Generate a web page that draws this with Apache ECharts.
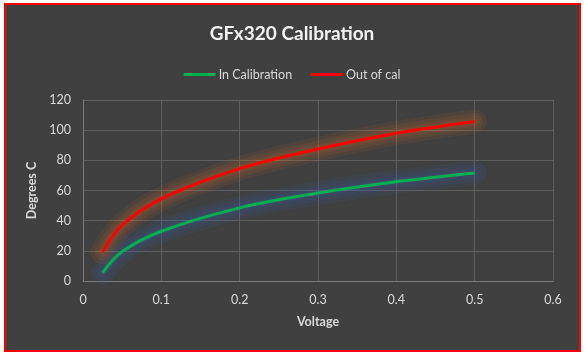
<!DOCTYPE html>
<html><head><meta charset="utf-8">
<script src="https://cdn.jsdelivr.net/npm/echarts@6/dist/echarts.min.js"></script>
<style>html,body{margin:0;padding:0;background:#ffffff;}#c{width:584px;height:356px;}</style>
</head><body><div id="c"></div>
<script>
const voltage = [0.025, 0.05, 0.1, 0.2, 0.3, 0.4, 0.5];
const inCalibration = [5.5, 19.5, 33, 48.5, 58.3, 65.8, 71.6];
const outOfCal = [19.2, 37, 54.5, 74.5, 87.5, 98, 105.8];
const seriesNames = ['In Calibration', 'Out of cal'];
const titleText = 'GFx320 Calibration';
const xName = 'Voltage';
const yName = 'Degrees C';

const font = 'Lato, "Open Sans", sans-serif';
const chart = echarts.init(document.getElementById('c'));
const pairs = arr => voltage.map((v, i) => [v, arr[i]]);
const glowWidths = [24, 17, 11, 6];
const glowLayers = (key, arr, rgb) => glowWidths.map((w, k) => ({
  name: key + k, type: 'line', data: pairs(arr), smooth: 0.35, symbol: 'none', silent: true, z: 1,
  lineStyle: { width: w, color: 'rgba(' + rgb + ',0.07)', shadowBlur: 6, shadowColor: 'rgba(' + rgb + ',0.3)', cap: 'round' }
}));
chart.setOption({
  animation: false,
  backgroundColor: '#ffffff',
  graphic: [{
    type: 'rect', z: -10, silent: true,
    shape: { x: 5, y: 4, width: 575, height: 347 },
    style: { fill: '#404040', stroke: '#ff0000', lineWidth: 2 }
  }],
  title: {
    text: titleText, left: 'center', top: 19,
    textStyle: { color: '#f2f2f2', fontFamily: font, fontWeight: 'bold', fontSize: 19 }
  },
  legend: {
    top: 63, left: 'center', itemWidth: 32, itemHeight: 3, itemGap: 19, icon: 'rect',
    data: seriesNames,
    textStyle: { color: '#d9d9d9', fontFamily: font, fontSize: 12.5, padding: [0, 0, 0, -2] }
  },
  grid: { left: 83, top: 100, width: 470, height: 181 },
  xAxis: {
    type: 'value', min: 0, max: 0.6, interval: 0.1,
    name: xName, nameLocation: 'middle', nameGap: 34,
    nameTextStyle: { color: '#d9d9d9', fontFamily: font, fontWeight: 'bold', fontSize: 12.5 },
    axisLine: { show: true, lineStyle: { color: '#7a7a7a', width: 1 } },
    axisTick: { show: false },
    axisLabel: { color: '#d9d9d9', fontFamily: font, fontSize: 12.5, margin: 12 },
    splitLine: { show: true, lineStyle: { color: '#5e5e5e', width: 1 } }
  },
  yAxis: {
    type: 'value', min: 0, max: 120, interval: 20,
    name: yName, nameLocation: 'middle', nameGap: 44,
    nameTextStyle: { color: '#d9d9d9', fontFamily: font, fontWeight: 'bold', fontSize: 12.5 },
    axisLine: { show: true, lineStyle: { color: '#7a7a7a', width: 1 } },
    axisTick: { show: false },
    axisLabel: { color: '#d9d9d9', fontFamily: font, fontSize: 12.5, margin: 12 },
    splitLine: { show: true, lineStyle: { color: '#5e5e5e', width: 1 } }
  },
  series: [].concat(
    glowLayers('glowIn', inCalibration, '68,114,196'),
    glowLayers('glowOut', outOfCal, '237,125,49'),
    [{
      name: seriesNames[0], type: 'line', data: pairs(inCalibration), z: 3,
      smooth: 0.35, symbol: 'none', color: '#00b050',
      lineStyle: { width: 3, color: '#00b050' }
    },
    {
      name: seriesNames[1], type: 'line', data: pairs(outOfCal), z: 3,
      smooth: 0.35, symbol: 'none', color: '#ff0000',
      lineStyle: { width: 3, color: '#ff0000' }
    }]
  )
});
</script></body></html>
